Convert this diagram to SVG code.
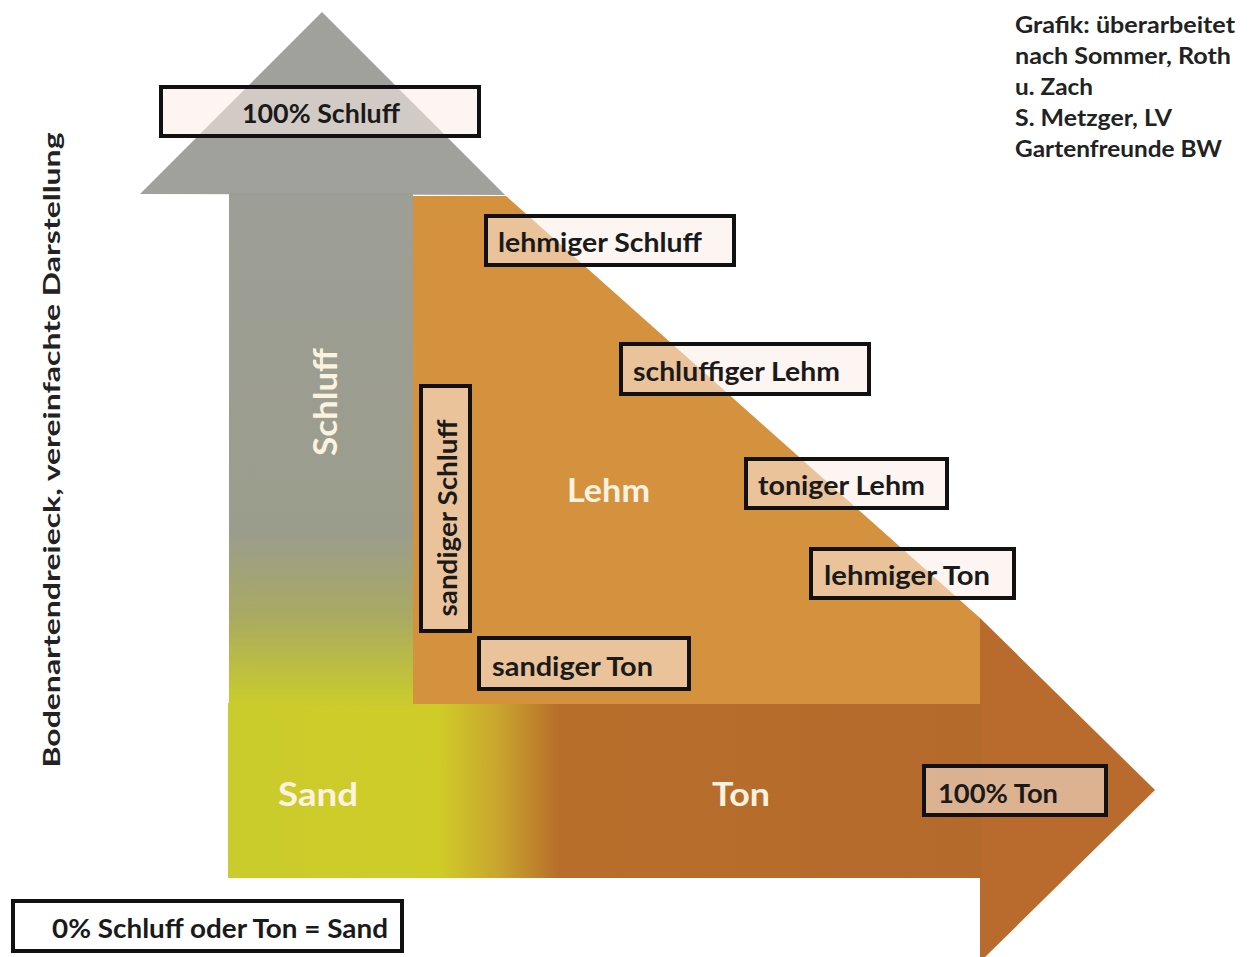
<svg xmlns="http://www.w3.org/2000/svg" width="1250" height="957" viewBox="0 0 1250 957">
  <defs>
    <linearGradient id="gVert" x1="0" y1="193" x2="0" y2="877" gradientUnits="userSpaceOnUse">
      <stop offset="0" stop-color="#9d9e96"/>
      <stop offset="0.5" stop-color="#9b9d8c"/>
      <stop offset="0.62" stop-color="#a9aa62"/>
      <stop offset="0.74" stop-color="#c8ca2e"/>
      <stop offset="1" stop-color="#cbcd2a"/>
    </linearGradient>
    <linearGradient id="gHor" x1="228" y1="0" x2="980" y2="0" gradientUnits="userSpaceOnUse">
      <stop offset="0" stop-color="#c9cc2c"/>
      <stop offset="0.28" stop-color="#cfcc28"/>
      <stop offset="0.36" stop-color="#c9a52e"/>
      <stop offset="0.44" stop-color="#b86e2b"/>
      <stop offset="1" stop-color="#b46a2b"/>
    </linearGradient>
  </defs>
  <style>
    .box { fill: #fbece6; fill-opacity: 0.55; stroke: #111; stroke-width: 4; }
    .lbl { font-family: Lato, "Open Sans", "Liberation Sans", sans-serif; font-weight: bold; font-size: 26px; fill: #1a1a1a; }
    .big { font-family: Lato, "Open Sans", "Liberation Sans", sans-serif; font-weight: bold; font-size: 32px; fill: #fbf3e0; }
    .note { font-family: Lato, "Open Sans", "Liberation Sans", sans-serif; font-weight: bold; font-size: 22px; fill: #222; }
  </style>
  <rect width="1250" height="957" fill="#ffffff"/>

  <g id="axes">
    <!-- right (Ton) arrow -->
    <polygon points="980,618 1155,790 980,962" fill="#b86b2c"/>
    <rect x="228" y="703" width="754" height="175" fill="url(#gHor)"/>
    <!-- up (Schluff) arrow -->
    <polygon points="140,194 322,12 505,195" fill="#a0a19c"/>
    <rect x="229" y="193" width="184" height="512" fill="url(#gVert)"/>
  </g>

  <g id="lehm-area">
    <polygon points="413,196 506,196 980,618 980,704 413,704" fill="#d4913e"/>
  </g>

  <g id="title">
    <text class="note" transform="translate(60,450) rotate(-90)" text-anchor="middle" font-size="24" textLength="635" lengthAdjust="spacingAndGlyphs">Bodenartendreieck, vereinfachte Darstellung</text>
  </g>

  <g id="credits">
    <text class="note" x="1015" y="33" textLength="220" lengthAdjust="spacingAndGlyphs">Grafik: überarbeitet</text>
    <text class="note" x="1015" y="64" textLength="216" lengthAdjust="spacingAndGlyphs">nach Sommer, Roth</text>
    <text class="note" x="1015" y="95" textLength="78" lengthAdjust="spacingAndGlyphs">u. Zach</text>
    <text class="note" x="1015" y="126" textLength="157" lengthAdjust="spacingAndGlyphs">S. Metzger, LV</text>
    <text class="note" x="1015" y="157" textLength="207" lengthAdjust="spacingAndGlyphs">Gartenfreunde BW</text>
  </g>

  <g id="area-labels">
    <text class="big" transform="translate(337,402) rotate(-90)" text-anchor="middle" textLength="108" lengthAdjust="spacingAndGlyphs">Schluff</text>
    <text class="big" x="567" y="502" textLength="83" lengthAdjust="spacingAndGlyphs">Lehm</text>
    <text class="big" x="278" y="806" textLength="80" lengthAdjust="spacingAndGlyphs">Sand</text>
    <text class="big" x="712" y="806" textLength="58" lengthAdjust="spacingAndGlyphs">Ton</text>
  </g>

  <g id="node-100-schluff">
    <rect class="box" x="161" y="87" width="318" height="49"/>
    <text class="lbl" x="242" y="123" textLength="158" lengthAdjust="spacingAndGlyphs">100% Schluff</text>
  </g>
  <g id="node-lehmiger-schluff">
    <rect class="box" x="486" y="216" width="248" height="49"/>
    <text class="lbl" x="498" y="252" textLength="204" lengthAdjust="spacingAndGlyphs">lehmiger Schluff</text>
  </g>
  <g id="node-schluffiger-lehm">
    <rect class="box" x="621" y="344" width="248" height="50"/>
    <text class="lbl" x="633" y="381" textLength="207" lengthAdjust="spacingAndGlyphs">schluffiger Lehm</text>
  </g>
  <g id="node-toniger-lehm">
    <rect class="box" x="746" y="459" width="201" height="49"/>
    <text class="lbl" x="758" y="495" textLength="167" lengthAdjust="spacingAndGlyphs">toniger Lehm</text>
  </g>
  <g id="node-lehmiger-ton">
    <rect class="box" x="811" y="549" width="203" height="49"/>
    <text class="lbl" x="824" y="585" textLength="166" lengthAdjust="spacingAndGlyphs">lehmiger Ton</text>
  </g>
  <g id="node-sandiger-schluff">
    <rect class="box" x="421" y="386" width="49" height="245"/>
    <text class="lbl" transform="translate(457,518) rotate(-90)" text-anchor="middle" textLength="197" lengthAdjust="spacingAndGlyphs">sandiger Schluff</text>
  </g>
  <g id="node-sandiger-ton">
    <rect class="box" x="479" y="638" width="210" height="51"/>
    <text class="lbl" x="492" y="676" textLength="161" lengthAdjust="spacingAndGlyphs">sandiger Ton</text>
  </g>
  <g id="node-100-ton">
    <rect class="box" x="924" y="766" width="182" height="49"/>
    <text class="lbl" x="938" y="803" textLength="120" lengthAdjust="spacingAndGlyphs">100% Ton</text>
  </g>
  <g id="node-0-sand">
    <rect class="box" x="13" y="901" width="389" height="50" style="fill:#ffffff;fill-opacity:1"/>
    <text class="lbl" x="52" y="938" textLength="336" lengthAdjust="spacingAndGlyphs">0% Schluff oder Ton = Sand</text>
  </g>
</svg>
